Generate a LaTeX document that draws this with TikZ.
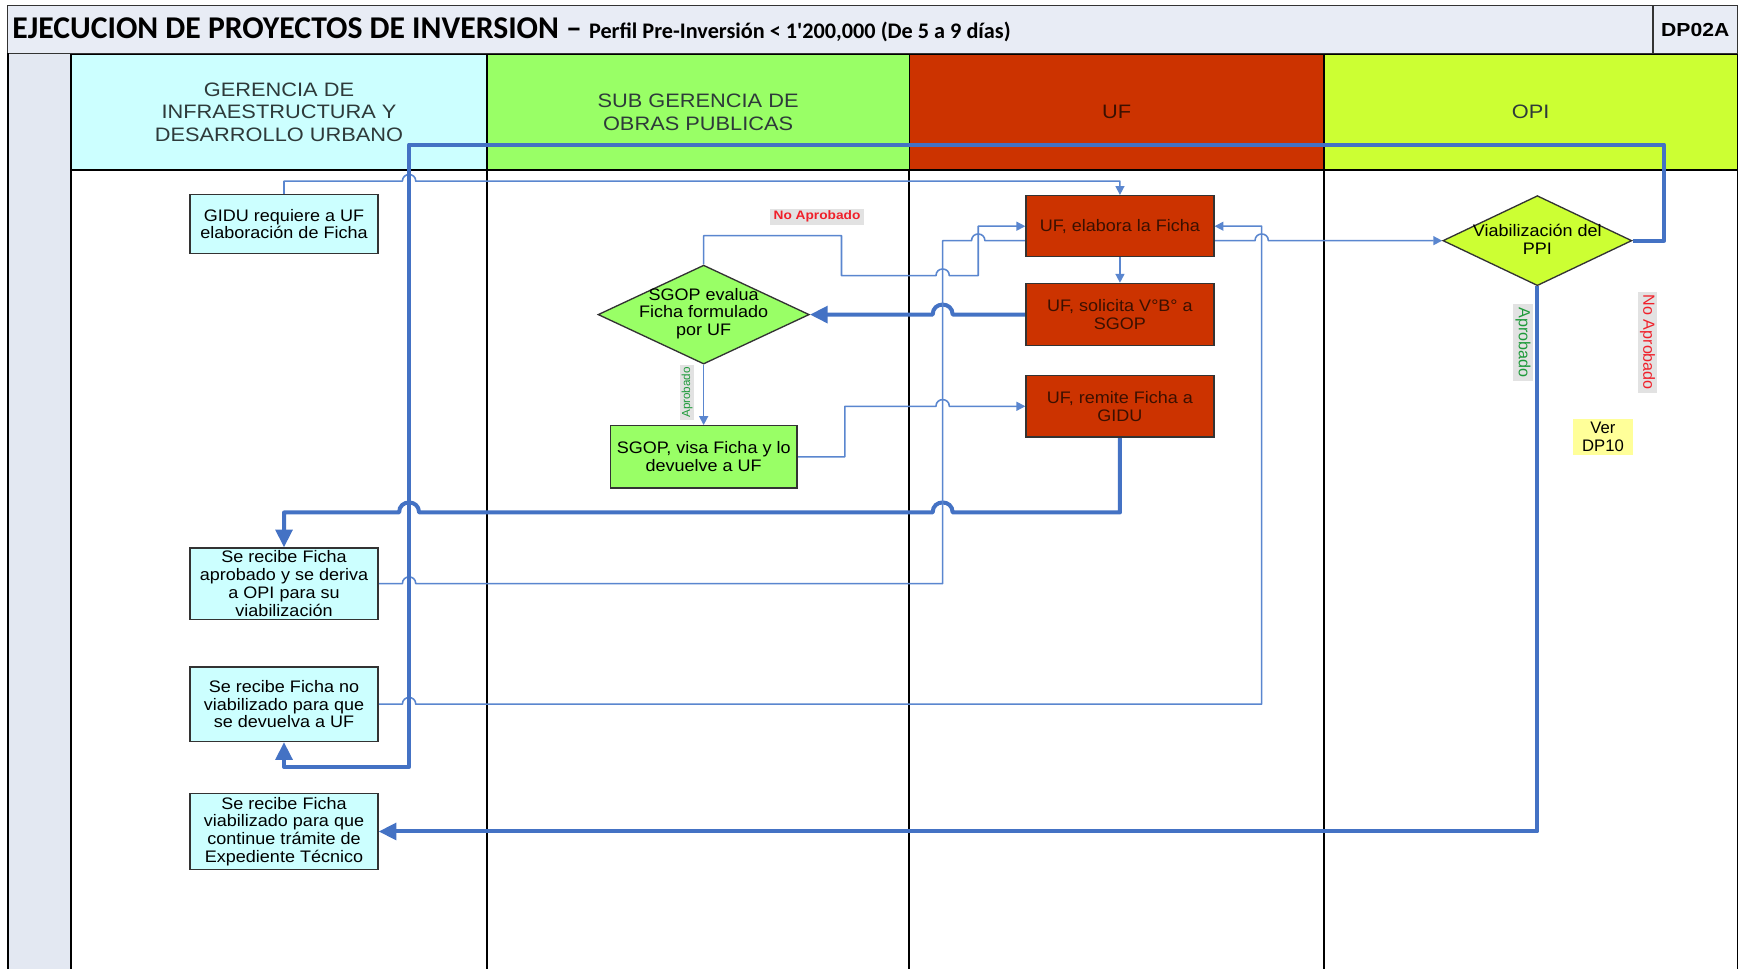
\documentclass[tikz,border=0pt]{standalone}
\usepackage{fontspec}
\setmainfont{Liberation Sans}
\newfontfamily\boxfont[FakeStretch=1.08]{Liberation Sans}
\newfontfamily\headfont[FakeStretch=1.12]{Liberation Sans}
\newfontfamily\titlefont[Ligatures=ResetAll]{Carlito}
\usetikzlibrary{shapes.geometric,arrows.meta}
\pgfdeclarelayer{back}
\pgfdeclarelayer{mid}
\pgfsetlayers{back,mid,main}

\definecolor{barfill}{HTML}{E8ECF5}
\definecolor{stripfill}{HTML}{E3E8F2}
\definecolor{cyanfill}{HTML}{CCFFFF}
\definecolor{greenfill}{HTML}{99FF66}
\definecolor{redfill}{HTML}{CC3300}
\definecolor{limefill}{HTML}{CCFF33}
\definecolor{yelfill}{HTML}{FFFF99}
\definecolor{boxline}{HTML}{333333}
\definecolor{headtext}{HTML}{2E3A3A}
\definecolor{uftext}{HTML}{3B1000}
\definecolor{lnk}{HTML}{4472C4}
\definecolor{lnkthin}{HTML}{5A86CF}
\definecolor{lblgray}{HTML}{E2E2E2}
\definecolor{lblred}{HTML}{F0202A}
\definecolor{lblgreen}{HTML}{1E9A3A}

\begin{document}
\begin{tikzpicture}[x=1pt,y=-1pt,
  proc/.style={draw=boxline,line width=1.2pt,minimum width=169pt,inner sep=0pt,
    align=center,font=\boxfont\fontsize{15pt}{16pt}\selectfont},
  cyanbox/.style={proc,fill=cyanfill,text=black},
  redbox/.style={proc,fill=redfill,text=uftext},
  greenbox/.style={proc,fill=greenfill,text=black},
  decision/.style={diamond,draw=boxline,line width=1.2pt,inner sep=0pt},
  dtext/.style={align=center,inner sep=0pt,font=\boxfont\fontsize{15pt}{16pt}\selectfont},
  lanehead/.style={draw=black,line width=1.2pt,inner sep=0pt,align=center,text=headtext,
    font=\headfont\fontsize{17.5pt}{20pt}\selectfont},
  thinlink/.style={draw=lnkthin,line width=1.4pt,line join=round},
  thicklink/.style={draw=lnk,line width=3.6pt,line join=round},
  smallarrow/.style={-{Triangle[width=8pt,length=8pt]}},
  bigarrow/.style={-{Triangle[width=15pt,length=16pt]}},
  tag/.style={inner xsep=3pt,inner ysep=2pt,fill=lblgray}
]
\useasboundingbox (0,0) rectangle (1568,872);

% ---------- frame, title bar and lanes ----------
\begin{pgfonlayer}{back}
  \fill[white] (0,0) rectangle (1568,872);
  \fill[stripfill] (7,48) rectangle (64,872);
  \draw[boxline,line width=1.2pt,fill=barfill] (7,5) rectangle (1563,48);
  \draw[boxline,line width=1.2pt] (1487,5) -- (1487,48);
  \node[anchor=base west,inner sep=0pt] (title) at (11,35)
    {\titlefont\bfseries\fontsize{28.5pt}{30pt}\selectfont EJECUCION DE PROYECTOS DE INVERSION –
     \fontsize{20pt}{22pt}\selectfont Perfil Pre-Inversión < 1'200,000 (De 5 a 9 días)};
  \node[inner sep=0pt,font=\headfont\bfseries\fontsize{17pt}{18pt}\selectfont] (code) at (1525,27) {DP02A};

  \node[lanehead,fill=cyanfill,minimum width=374pt,minimum height=104pt] (h1) at (251,101)
    {GERENCIA DE\\INFRAESTRUCTURA Y\\DESARROLLO URBANO};
  \node[lanehead,fill=greenfill,minimum width=380pt,minimum height=104pt] (h2) at (628,101)
    {SUB GERENCIA DE\\OBRAS PUBLICAS};
  \node[lanehead,fill=redfill,minimum width=373pt,minimum height=104pt,text=uftext] (h3) at (1004.5,101)
    {UF};
  \node[lanehead,fill=limefill,minimum width=372pt,minimum height=104pt] (h4) at (1377,101)
    {OPI};

  \draw[black,line width=1.5pt] (7,48) -- (7,872);
  \foreach \lx in {64,438,818,1191,1563}
    \draw[black,line width=1.5pt] (\lx,153) -- (\lx,872);
\end{pgfonlayer}

% ---------- process steps ----------
\node[cyanbox,minimum height=53pt] (gidu1) at (255.5,201.5) {GIDU requiere a UF\\elaboración de Ficha};
\node[redbox,minimum height=55pt] (elabora) at (1007.5,203.5) {UF, elabora la Ficha};
\node[redbox,minimum height=56pt] (solicita) at (1007.5,283) {UF, solicita V°B° a\\SGOP};
\node[redbox,minimum height=55pt] (remite) at (1007.5,365.5) {UF, remite Ficha a\\GIDU};
\node[greenbox,minimum width=168pt,minimum height=56pt] (visa) at (633,411) {SGOP, visa Ficha y lo\\devuelve a UF};
\node[cyanbox,minimum height=64pt] (recibe1) at (255.5,525) {Se recibe Ficha\\aprobado y se deriva\\a OPI para su\\viabilización};
\node[cyanbox,minimum height=67pt] (recibe2) at (255.5,633.5) {Se recibe Ficha no\\viabilizado para que\\se devuelva a UF};
\node[cyanbox,minimum height=68pt] (recibe3) at (255.5,748) {Se recibe Ficha\\viabilizado para que\\continue trámite de\\Expediente Técnico};

% ---------- decisions ----------
\node[decision,fill=greenfill,minimum width=190pt,minimum height=89pt] (sgop) at (633,283) {};
\node[dtext] (sgoptxt) at (633,282) {SGOP evalua\\Ficha formulado\\por UF};
\node[decision,fill=limefill,minimum width=170pt,minimum height=81pt] (viab) at (1383,216.5) {};
\node[dtext] (viabtxt) at (1383,215) {Viabilización del\\PPI};

% ---------- labels ----------
\node[tag,text=lblred,font=\headfont\bfseries\fontsize{11pt}{12pt}\selectfont] (noap1) at (735,195) {No Aprobado};
\node[tag,rotate=90,text=lblgreen,font=\fontsize{10.5pt}{12pt}\selectfont,inner xsep=2pt,inner ysep=1pt] (ap1) at (618,353) {Aprobado};
\node[tag,rotate=-90,text=lblgreen,font=\fontsize{14.5pt}{15pt}\selectfont] (ap2) at (1370,308) {Aprobado};
\node[tag,rotate=-90,text=lblred,font=\fontsize{14.5pt}{15pt}\selectfont] (noap2) at (1482,308) {No Aprobado};
\node[fill=yelfill,align=center,inner xsep=8pt,inner ysep=3pt,font=\fontsize{15pt}{16pt}\selectfont] (ver) at (1442,393) {Ver\\DP10};

% ---------- connectors ----------
\begin{pgfonlayer}{mid}
  % GIDU asks UF for the Ficha
  \draw[thinlink,smallarrow] (gidu1.north) -- (255.5,163) -- (362,163)
     .. controls (362,155) and (374,155) .. (374,163) -- (1007.5,163) -- (elabora.north);
  % rejected by SGOP, back to UF
  \draw[thinlink,smallarrow] (sgop.north) -- (633,212) -- (757,212) -- (757,248) -- (842,248)
     .. controls (842,240) and (854,240) .. (854,248) -- (880,248) |- (elabora.west);
  % elabora -> solicita
  \draw[thinlink,smallarrow] (elabora.south) -- (solicita.north);
  % solicita -> SGOP
  \draw[thicklink,bigarrow] (solicita.west) -- (857,283)
     .. controls (857,271) and (839,271) .. (839,283) -- (sgop.east);
  % approved by SGOP
  \draw[thinlink,smallarrow] (sgop.south) -- (visa.north);
  % visa -> remite
  \draw[thinlink,smallarrow] (visa.east) -- (760,411) -- (760,365.5) -- (842,365.5)
     .. controls (842,357.5) and (854,357.5) .. (854,365.5) -- (remite.west);
  % remite -> GIDU
  \draw[thicklink,bigarrow] (remite.south) -- (1007.5,461) -- (857,461)
     .. controls (857,449) and (839,449) .. (839,461) -- (377,461)
     .. controls (377,449) and (359,449) .. (359,461) -- (255.5,461) -- (recibe1.north);
  % GIDU derives to OPI (runs behind the UF box)
  \draw[thinlink,smallarrow] (recibe1.east) -- (362,525)
     .. controls (362,517) and (374,517) .. (374,525) -- (848,525) -- (848,216.5) -- (874,216.5)
     .. controls (874,208.5) and (886,208.5) .. (886,216.5) -- (1129,216.5)
     .. controls (1129,208.5) and (1141,208.5) .. (1141,216.5) -- (viab.west);
  % GIDU returns to UF
  \draw[thinlink,smallarrow] (recibe2.east) -- (362,633.5)
     .. controls (362,625.5) and (374,625.5) .. (374,633.5) -- (1135,633.5) |- (elabora.east);
  % not approved by OPI
  \draw[thicklink,bigarrow] (viab.east) -- (1497,216.5) -- (1497,130) -- (368,130) -- (368,690)
     -- (255.5,690) -- (recibe2.south);
  % approved by OPI
  \draw[thicklink,bigarrow] (viab.south) |- (recibe3.east);
\end{pgfonlayer}
\end{tikzpicture}
\end{document}
